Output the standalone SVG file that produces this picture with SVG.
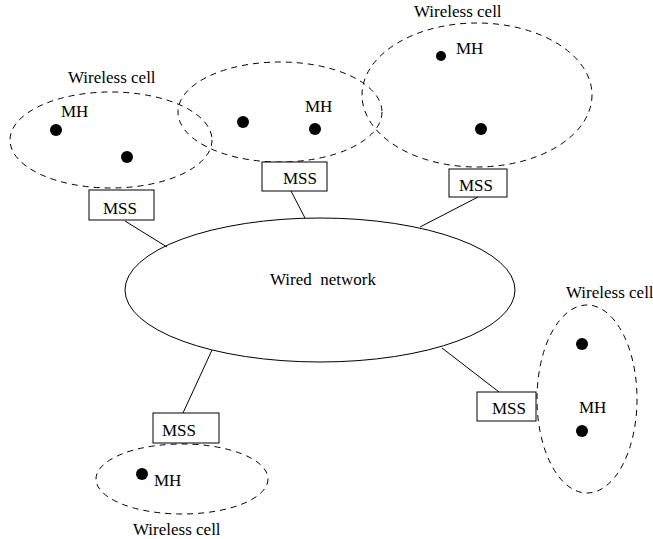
<svg xmlns="http://www.w3.org/2000/svg" width="653" height="539" viewBox="0 0 653 539">
<style>
.cell{fill:none;stroke:#000;stroke-width:1;stroke-dasharray:6,5}
.box{fill:#fff;stroke:#000;stroke-width:1}
.wire{fill:none;stroke:#000;stroke-width:1}
.dot{fill:#000}
text{font-family:"Liberation Serif","Times New Roman",serif;font-size:17px;fill:#000}
</style>
<rect width="653" height="539" fill="#fff"/>
<g id="connectors">
<line class="wire" x1="125" y1="221" x2="167" y2="247"/>
<line class="wire" x1="291" y1="191" x2="305" y2="218"/>
<line class="wire" x1="478" y1="197" x2="420" y2="227"/>
<line class="wire" x1="499" y1="392" x2="442" y2="348"/>
<line class="wire" x1="183" y1="413" x2="212" y2="350"/>
</g>
<g id="wired-network">
<ellipse class="wire" cx="320" cy="290" rx="195" ry="72"/>
<text x="270" y="285" xml:space="preserve">Wired  network</text>
</g>
<g id="cell-left">
<ellipse class="cell" cx="111" cy="140" rx="101" ry="48"/>
<text x="68" y="83">Wireless cell</text>
<text x="61" y="117">MH</text>
<circle class="dot" cx="56" cy="130" r="6"/>
<circle class="dot" cx="127" cy="157" r="6"/>
</g>
<g id="cell-middle">
<ellipse class="cell" cx="280" cy="112" rx="102" ry="50"/>
<text x="305" y="112">MH</text>
<circle class="dot" cx="243" cy="122" r="6"/>
<circle class="dot" cx="315" cy="129" r="6"/>
</g>
<g id="cell-right-top">
<ellipse class="cell" cx="477" cy="95" rx="115" ry="72"/>
<text x="414" y="17">Wireless cell</text>
<text x="456" y="54">MH</text>
<circle class="dot" cx="441" cy="56" r="5"/>
<circle class="dot" cx="481" cy="129" r="6"/>
</g>
<g id="cell-right-bottom">
<ellipse class="cell" cx="587" cy="399" rx="50" ry="94"/>
<text x="566" y="298">Wireless cell</text>
<text x="579" y="413">MH</text>
<circle class="dot" cx="582" cy="344" r="6"/>
<circle class="dot" cx="582" cy="431" r="6"/>
</g>
<g id="cell-bottom">
<ellipse class="cell" cx="182" cy="479" rx="86" ry="35"/>
<text x="154" y="486">MH</text>
<text x="133" y="535">Wireless cell</text>
<circle class="dot" cx="142" cy="474" r="6"/>
</g>
<g id="mss-left">
<rect class="box" x="89" y="190" width="65" height="30"/>
<text x="120" y="214" text-anchor="middle">MSS</text>
</g>
<g id="mss-middle">
<rect class="box" x="262" y="162" width="65" height="29"/>
<text x="300" y="184" text-anchor="middle">MSS</text>
</g>
<g id="mss-right-top">
<rect class="box" x="449" y="169" width="58" height="28"/>
<text x="476" y="191" text-anchor="middle">MSS</text>
</g>
<g id="mss-right-bottom">
<rect class="box" x="477" y="392" width="59" height="29"/>
<text x="509" y="414" text-anchor="middle">MSS</text>
</g>
<g id="mss-bottom">
<rect class="box" x="153" y="413" width="66" height="30"/>
<text x="179" y="436" text-anchor="middle">MSS</text>
</g>
</svg>
